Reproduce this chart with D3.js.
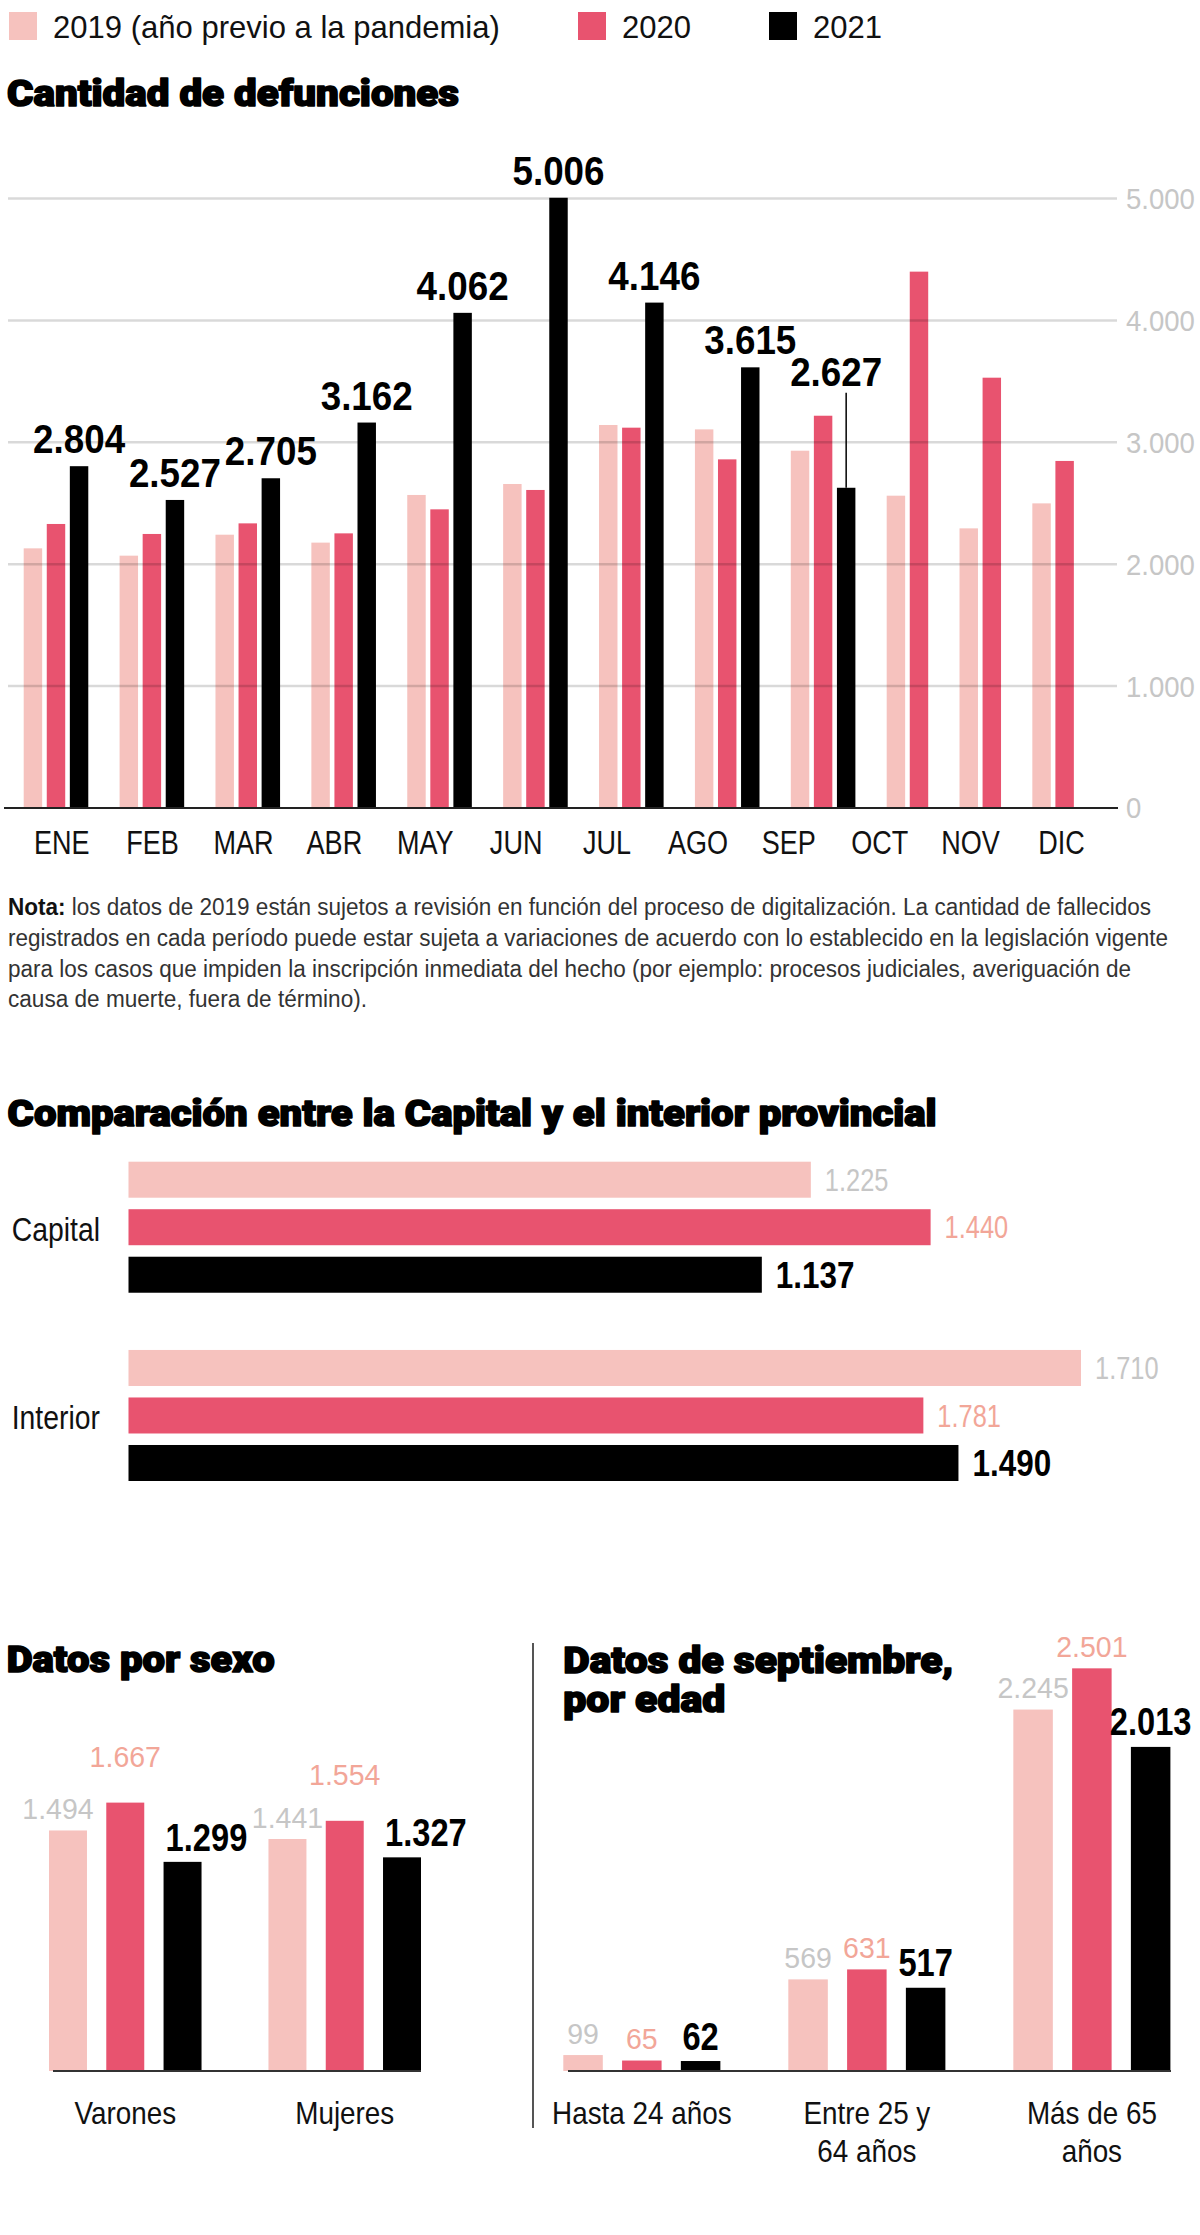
<!DOCTYPE html>
<html>
<head>
<meta charset="utf-8">
<script src="https://cdn.jsdelivr.net/npm/d3@7"></script>
<style>
  html, body { margin: 0; padding: 0; background: #fff; }
</style>
</head>
<body>
<div id="chart"></div>
<script>

// --- data -------------------------------------------------------------

const seriesKeys = ['2019', '2020', '2021']
const seriesNames = ['2019 (año previo a la pandemia)', '2020', '2021']

const months = ['ENE', 'FEB', 'MAR', 'ABR', 'MAY', 'JUN', 'JUL', 'AGO', 'SEP', 'OCT', 'NOV', 'DIC']
const deaths2019 = [2130, 2070, 2242, 2177, 2568, 2658, 3142, 3106, 2931, 2562, 2294, 2499]
const deaths2020 = [2330, 2248, 2335, 2253, 2450, 2609, 3120, 2860, 3218, 4400, 3530, 2847]
const deaths2021 = [2804, 2527, 2705, 3162, 4062, 5006, 4146, 3615, 2627]
const deathTicks = [0, 1000, 2000, 3000, 4000, 5000]

const regions = ['Capital', 'Interior']
const region2019 = [1225, 1710]
const region2020 = [1440, 1781]
// in the original the Interior 2020 bar is drawn shorter than its label says
const region2020Bar = [1440, 1427]
const region2021 = [1137, 1490]

const sexes = ['Varones', 'Mujeres']
const sex2019 = [1494, 1441]
const sex2020 = [1667, 1554]
const sex2021 = [1299, 1327]

const ages = ['Hasta 24 años', 'Entre 25 y 64 años', 'Más de 65 años']
const ageLines = [['Hasta 24 años'], ['Entre 25 y', '64 años'], ['Más de 65', 'años']]
const age2019 = [99, 569, 2245]
const age2020 = [65, 631, 2501]
const age2021 = [62, 517, 2013]

const noteLines = [
  'los datos de 2019 están sujetos a revisión en función del proceso de digitalización. La cantidad de fallecidos',
  'registrados en cada período puede estar sujeta a variaciones de acuerdo con lo establecido en la legislación vigente',
  'para los casos que impiden la inscripción inmediata del hecho (por ejemplo: procesos judiciales, averiguación de',
  'causa de muerte, fuera de término).'
]

// --- styles -----------------------------------------------------------

const colors = ['#f6c2be', '#e8536f', '#000000']
const labelColors = ['#c6c6c6', '#f2a698', '#000000']
const SANS = '"Liberation Sans", Arial, sans-serif'
const HEAVY = 'Roboto, "Liberation Sans", Arial, sans-serif'

const es = d3.formatLocale({ decimal: ',', thousands: '.', grouping: [3], currency: ['$', ''] })
const fmt = es.format(',d')

const svg = d3.select('#chart')
  .append('svg')
  .attr('width', 1200)
  .attr('height', 2235)
  .attr('font-family', SANS)

svg.append('rect')
  .attr('width', 1200)
  .attr('height', 2235)
  .attr('fill', '#fff')

// heavy headline: bold face thickened with a stroke, squeezed to the original width
const title = (x, y, str, w) =>
  svg.append('text')
    .attr('x', x)
    .attr('y', y)
    .attr('font-family', HEAVY)
    .attr('font-size', 37)
    .attr('font-weight', 900)
    .attr('fill', '#000')
    .attr('stroke', '#000')
    .attr('stroke-width', 1.6)
    .attr('stroke-linejoin', 'round')
    .attr('textLength', w)
    .attr('lengthAdjust', 'spacingAndGlyphs')
    .text(str)

// --- legend -----------------------------------------------------------

const legendX = [9, 578, 769]
const legend = svg.append('g')
  .selectAll('g')
  .data(seriesNames)
  .join('g')
  .attr('transform', (d, i) => `translate(${legendX[i]},12)`)

legend.append('rect')
  .attr('width', 28)
  .attr('height', 28)
  .attr('fill', (d, i) => colors[i])

legend.append('text')
  .attr('transform', 'translate(44,26) scale(0.97,1)')
  .attr('font-size', 32)
  .attr('fill', '#111')
  .text(d => d)

// --- chart 1: cantidad de defunciones --------------------------------

title(7, 106, 'Cantidad de defunciones', 452)

const y1 = d3.scaleLinear().domain([0, 5000]).range([808, 198.5])
const xMonth = d3.scalePoint().domain(months).range([61.7, 1061.5])

// bars are packed per month: fixed step inside a group, wider gap between groups
const GROUP_GAP = 2.157
const bars1 = []
let u = 0
months.forEach((m, i) => {
  const vals = [deaths2019[i], deaths2020[i], deaths2021[i]]
  vals.forEach((v, s) => {
    if (v === undefined) return
    bars1.push({ month: m, i, s, v, u })
    u += 1
  })
  u += GROUP_GAP - 1
})
const lastU = bars1[bars1.length - 1].u
const xSlot = d3.scaleLinear().domain([0, lastU]).range([23.7, 1055.4])
const barW1 = (xSlot(1) - xSlot(0)) * 0.8

const c1 = svg.append('g')

c1.selectAll('rect.bar')
  .data(bars1)
  .join('rect')
  .attr('class', 'bar')
  .attr('x', d => xSlot(d.u))
  .attr('y', d => y1(d.v))
  .attr('width', barW1)
  .attr('height', d => y1(0) - y1(d.v))
  .attr('fill', d => colors[d.s])

c1.selectAll('line.grid')
  .data(deathTicks.filter(t => t > 0))
  .join('line')
  .attr('class', 'grid')
  .attr('x1', 8)
  .attr('x2', 1117)
  .attr('y1', d => y1(d))
  .attr('y2', d => y1(d))
  .attr('stroke', 'rgba(0,0,0,0.15)')
  .attr('stroke-width', 2.5)

c1.append('line')
  .attr('x1', 4)
  .attr('x2', 1118)
  .attr('y1', y1(0))
  .attr('y2', y1(0))
  .attr('stroke', '#222')
  .attr('stroke-width', 2)

c1.selectAll('text.ytick')
  .data(deathTicks)
  .join('text')
  .attr('class', 'ytick')
  .attr('transform', d => `translate(1126,${y1(d)}) scale(0.95,1)`)
  .attr('dy', '0.36em')
  .attr('font-size', 29)
  .attr('fill', '#c6c6c6')
  .text(d => fmt(d))

c1.selectAll('text.month')
  .data(months)
  .join('text')
  .attr('class', 'month')
  .attr('transform', d => `translate(${xMonth(d)},854) scale(0.82,1)`)
  .attr('text-anchor', 'middle')
  .attr('font-size', 33)
  .attr('fill', '#111')
  .text(d => d)

// 2021 value labels; if a neighbour is taller the label is lifted with a leader line
const labels1 = bars1.filter(d => d.s === 2).map(d => {
  const other = d3.max(bars1.filter(b => b.i === d.i && b.s !== 2), b => b.v)
  const lifted = other > d.v
  return {
    ...d,
    cx: xSlot(d.u) + barW1 / 2,
    ly: lifted ? y1(other) - 30 : y1(d.v) - 13,
    lifted
  }
})

c1.selectAll('line.leader')
  .data(labels1.filter(d => d.lifted))
  .join('line')
  .attr('class', 'leader')
  .attr('x1', d => d.cx)
  .attr('x2', d => d.cx)
  .attr('y1', d => d.ly + 7)
  .attr('y2', d => y1(d.v))
  .attr('stroke', '#000')
  .attr('stroke-width', 1.5)

c1.selectAll('text.val')
  .data(labels1)
  .join('text')
  .attr('class', 'val')
  .attr('transform', d => `translate(${d.cx + (d.lifted ? -10 : 0)},${d.ly}) scale(0.92,1)`)
  .attr('text-anchor', 'middle')
  .attr('font-size', 40)
  .attr('font-weight', 700)
  .attr('fill', '#000')
  .text(d => fmt(d.v))

// --- nota -------------------------------------------------------------

const noteY = [915, 946, 976.5, 1007]
const noteW = [1143, 1160, 1123, 359]
noteLines.forEach((line, i) => {
  const t = svg.append('text')
    .attr('x', 8)
    .attr('y', noteY[i])
    .attr('font-size', 23)
    .attr('fill', '#333')
    .attr('textLength', noteW[i])
    .attr('lengthAdjust', 'spacingAndGlyphs')
  if (i === 0) {
    t.append('tspan').attr('font-weight', 700).attr('fill', '#111').text('Nota:')
    t.append('tspan').text(' ' + line)
  } else {
    t.text(line)
  }
})

// --- chart 2: capital vs interior ------------------------------------

title(7.6, 1126, 'Comparación entre la Capital y el interior provincial', 929)

const yReg = d3.scaleBand().domain(regions).range([1161.7, 1481]).paddingInner(0.304)
const yRegS = d3.scaleBand().domain(seriesKeys).range([0, yReg.bandwidth()]).paddingInner(0.242)
const xReg = d3.scaleLinear().domain([0, 1710]).range([128.5, 1081])

const regRows = regions.flatMap((r, i) => [
  { r, s: 0, bar: region2019[i], v: region2019[i] },
  { r, s: 1, bar: region2020Bar[i], v: region2020[i] },
  { r, s: 2, bar: region2021[i], v: region2021[i] }
])

const c2 = svg.append('g')

c2.selectAll('rect')
  .data(regRows)
  .join('rect')
  .attr('x', xReg(0))
  .attr('y', d => yReg(d.r) + yRegS(seriesKeys[d.s]))
  .attr('width', d => xReg(d.bar) - xReg(0))
  .attr('height', yRegS.bandwidth())
  .attr('fill', d => colors[d.s])

c2.selectAll('text.val')
  .data(regRows)
  .join('text')
  .attr('class', 'val')
  .attr('transform', d => {
    const x = xReg(d.bar) + 14
    const y = yReg(d.r) + yRegS(seriesKeys[d.s]) + yRegS.bandwidth() / 2
    return `translate(${x},${y}) scale(${d.s === 2 ? 0.85 : 0.82},1)`
  })
  .attr('dy', '0.36em')
  .attr('font-size', d => d.s === 2 ? 37 : 31)
  .attr('font-weight', d => d.s === 2 ? 700 : 400)
  .attr('fill', d => labelColors[d.s])
  .text(d => fmt(d.v))

c2.selectAll('text.cat')
  .data(regions)
  .join('text')
  .attr('class', 'cat')
  .attr('transform', d => `translate(100,${yReg(d) + yReg.bandwidth() / 2 + 2}) scale(0.86,1)`)
  .attr('dy', '0.36em')
  .attr('text-anchor', 'end')
  .attr('font-size', 33)
  .attr('fill', '#111')
  .text(d => d)

// --- shared scale for the two lower charts ---------------------------

const yLow = d3.scaleLinear().domain([0, 1000]).range([2071, 1910])

// --- chart 3: por sexo ------------------------------------------------

title(6.7, 1672, 'Datos por sexo', 268)

const xSex = d3.scaleBand().domain(sexes).range([49, 421]).paddingInner(0.305)
const xSexS = d3.scaleBand().domain(seriesKeys).range([0, xSex.bandwidth()]).paddingInner(0.337)

const sexRows = sexes.flatMap((c, i) =>
  [sex2019[i], sex2020[i], sex2021[i]].map((v, s) => ({ c, s, v })))

const c3 = svg.append('g')

c3.selectAll('rect')
  .data(sexRows)
  .join('rect')
  .attr('x', d => xSex(d.c) + xSexS(seriesKeys[d.s]))
  .attr('y', d => yLow(d.v))
  .attr('width', xSexS.bandwidth())
  .attr('height', d => yLow(0) - yLow(d.v))
  .attr('fill', d => colors[d.s])

c3.append('line')
  .attr('x1', 53)
  .attr('x2', 421)
  .attr('y1', yLow(0))
  .attr('y2', yLow(0))
  .attr('stroke', '#333')
  .attr('stroke-width', 2)

// 2020 labels sit higher, 2021 labels start at the bar's left edge
const sexLabelLift = [11, 36, 11]
const sexLabelShift = [-10, 0, 0]
c3.selectAll('text.val')
  .data(sexRows)
  .join('text')
  .attr('class', 'val')
  .attr('transform', d => {
    const x0 = xSex(d.c) + xSexS(seriesKeys[d.s])
    const x = d.s === 2 ? x0 + 2 : x0 + xSexS.bandwidth() / 2 + (d.c === 'Varones' ? sexLabelShift[d.s] : 0)
    return `translate(${x},${yLow(d.v) - sexLabelLift[d.s]}) scale(${d.s === 2 ? 0.86 : 0.95},1)`
  })
  .attr('text-anchor', d => d.s === 2 ? 'start' : 'middle')
  .attr('font-size', d => d.s === 2 ? 38 : 30)
  .attr('font-weight', d => d.s === 2 ? 700 : 400)
  .attr('fill', d => labelColors[d.s])
  .text(d => fmt(d.v))

c3.selectAll('text.cat')
  .data(sexes)
  .join('text')
  .attr('class', 'cat')
  .attr('transform', d => `translate(${xSex(d) + xSex.bandwidth() / 2},2124) scale(0.87,1)`)
  .attr('text-anchor', 'middle')
  .attr('font-size', 32)
  .attr('fill', '#111')
  .text(d => d)

// --- divider ----------------------------------------------------------

svg.append('line')
  .attr('x1', 533)
  .attr('x2', 533)
  .attr('y1', 1643)
  .attr('y2', 2128)
  .attr('stroke', '#555')
  .attr('stroke-width', 2)

// --- chart 4: septiembre por edad ------------------------------------

title(563.3, 1673, 'Datos de septiembre,', 390)
title(563.3, 1711.7, 'por edad', 162)

const xAge = d3.scaleBand().domain(ages).range([563.3, 1170.4]).paddingInner(0.302)
const xAgeS = d3.scaleBand().domain(seriesKeys).range([0, xAge.bandwidth()]).paddingInner(0.328)

const ageRows = ages.flatMap((c, i) =>
  [age2019[i], age2020[i], age2021[i]].map((v, s) => ({ c, s, v })))

const c4 = svg.append('g')

c4.selectAll('rect')
  .data(ageRows)
  .join('rect')
  .attr('x', d => xAge(d.c) + xAgeS(seriesKeys[d.s]))
  .attr('y', d => yLow(d.v))
  .attr('width', xAgeS.bandwidth())
  .attr('height', d => yLow(0) - yLow(d.v))
  .attr('fill', d => colors[d.s])

c4.append('line')
  .attr('x1', 568)
  .attr('x2', 1171)
  .attr('y1', yLow(0))
  .attr('y2', yLow(0))
  .attr('stroke', '#333')
  .attr('stroke-width', 2)

c4.selectAll('text.val')
  .data(ageRows)
  .join('text')
  .attr('class', 'val')
  .attr('transform', d => {
    const x = xAge(d.c) + xAgeS(seriesKeys[d.s]) + xAgeS.bandwidth() / 2
    return `translate(${x},${yLow(d.v) - 11.5}) scale(${d.s === 2 ? 0.86 : 0.95},1)`
  })
  .attr('text-anchor', 'middle')
  .attr('font-size', d => d.s === 2 ? 38 : 30)
  .attr('font-weight', d => d.s === 2 ? 700 : 400)
  .attr('fill', d => labelColors[d.s])
  .text(d => fmt(d.v))

const ageCat = c4.selectAll('text.cat')
  .data(ages)
  .join('text')
  .attr('class', 'cat')
  .attr('transform', d => `translate(${xAge(d) + xAge.bandwidth() / 2},2124) scale(0.87,1)`)
  .attr('text-anchor', 'middle')
  .attr('font-size', 32)
  .attr('fill', '#111')

ageCat.selectAll('tspan')
  .data((d, i) => ageLines[i])
  .join('tspan')
  .attr('x', 0)
  .attr('dy', (d, i) => i === 0 ? 0 : 38)
  .text(d => d)

</script>
</body>
</html>
